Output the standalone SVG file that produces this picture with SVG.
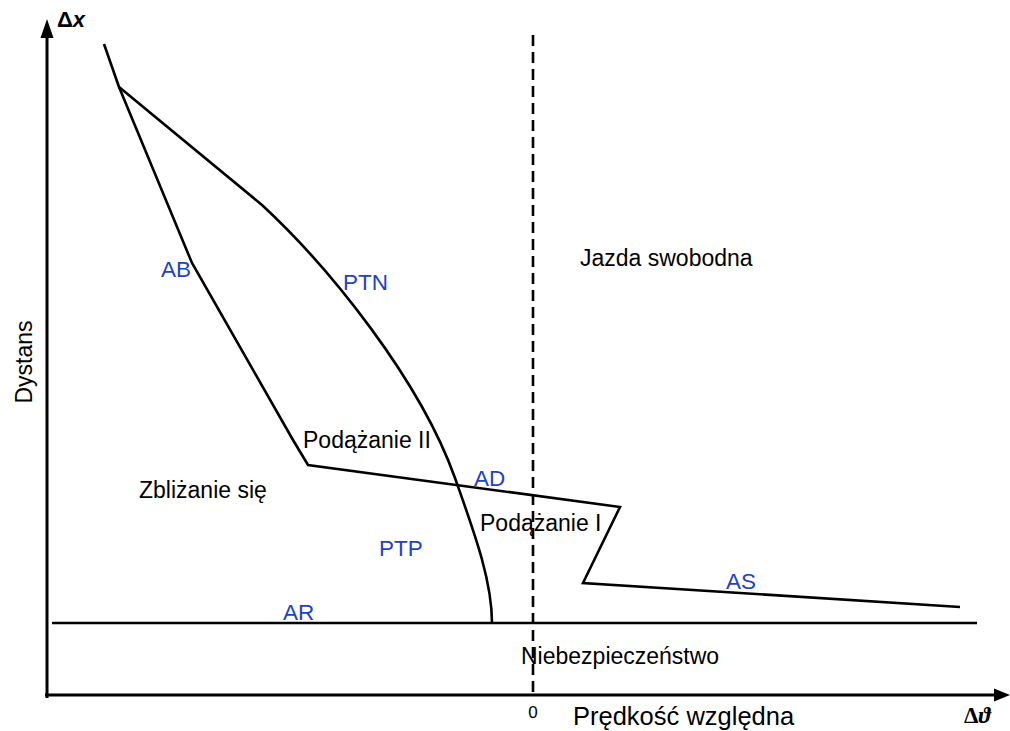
<svg xmlns="http://www.w3.org/2000/svg" width="1010" height="731" viewBox="0 0 1010 731">
  <style>
    .ln { fill: none; stroke: #000; stroke-width: 2.6; stroke-linejoin: miter; }
    .ax { fill: none; stroke: #000; stroke-width: 3; }
    .dash { fill: none; stroke: #000; stroke-width: 2.6; stroke-dasharray: 11 6; }
    .t { font-family: "Liberation Sans", Arial, sans-serif; font-size: 23px; fill: #000; }
    .b { font-family: "Liberation Sans", Arial, sans-serif; font-size: 22.5px; fill: #1d42c4; }
  </style>
  <rect width="1010" height="731" fill="#fff"/>
  <g id="axes">
    <line class="ax" x1="47" y1="698" x2="47" y2="34"/>
    <polygon points="47,19 40.5,38 53.5,38" fill="#000"/>
    <line class="ax" x1="45" y1="695" x2="996" y2="695"/>
    <polygon points="1010,695 994,688.5 994,701.5" fill="#000"/>
    <text x="57" y="27" font-family="Liberation Sans, Arial, sans-serif" font-size="22" font-weight="bold">Δ<tspan font-style="italic">x</tspan></text>
    <text x="964" y="723" font-family="Liberation Serif, Times New Roman, serif" font-size="23" font-weight="bold">Δ<tspan font-style="italic">ϑ</tspan></text>
    <text class="t" x="533" y="718" text-anchor="middle" style="font-size:17px">0</text>
    <text class="t" x="573" y="725" style="font-size:25.5px">Prędkość względna</text>
    <text class="t" transform="translate(32,362) rotate(-90)" text-anchor="middle" style="font-size:23px">Dystans</text>
  </g>
  <g id="connectors">
    <line class="dash" x1="533" y1="35" x2="533" y2="698"/>
    <line class="ln" x1="52" y1="623" x2="977" y2="623"/>
    <polyline class="ln" points="104,44 119,87 192,263 293,440 308,465 620,507 583,583 960,607"/>
    <path class="ln" d="M119,87 L262,205 C330,268 420,380 455,478 C474,532 492,580 492,623"/>
  </g>
  <g id="regions">
    <text class="t" x="580" y="266">Jazda swobodna</text>
    <text class="t" x="139" y="498">Zbliżanie się</text>
    <text class="t" x="303" y="448">Podążanie II</text>
    <text class="t" x="480" y="531">Podążanie I</text>
    <text class="t" x="521" y="664">Niebezpieczeństwo</text>
  </g>
  <g id="labels">
    <text class="b" x="161" y="277">AB</text>
    <text class="b" x="343" y="290">PTN</text>
    <text class="b" x="474" y="486">AD</text>
    <text class="b" x="379" y="556">PTP</text>
    <text class="b" x="283" y="620">AR</text>
    <text class="b" x="726" y="589">AS</text>
  </g>
</svg>
